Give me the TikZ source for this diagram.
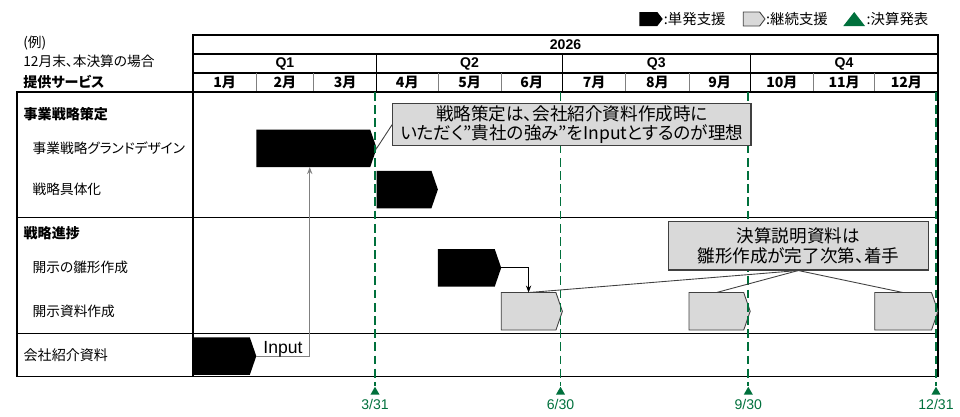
\documentclass[tikz,border=0pt]{standalone}
\usepackage{fontspec}
\setmainfont{Noto Sans CJK JP}[RawFeature=+palt]
\newfontfamily\latfont{Liberation Sans}
\usetikzlibrary{positioning}
\usetikzlibrary{shapes.symbols, shapes.geometric, arrows.meta}
\definecolor{kgreen}{RGB}{0,112,60}
\definecolor{kgray}{RGB}{217,217,217}
\definecolor{kline}{RGB}{64,64,64}

\begin{document}
\begin{tikzpicture}[x=0.02cm,y=-0.02cm,
  grid/.style={draw=black,line width=0.6pt},
  thingrid/.style={draw=gray,line width=0.4pt},
  hdr/.style={font=\fontsize{8}{9}\selectfont\bfseries,inner sep=0pt},
  sect/.style={font=\fontsize{8}{9}\selectfont\bfseries,anchor=west,inner sep=0pt},
  item/.style={font=\fontsize{7.8}{9}\selectfont,anchor=west,inner sep=0pt},
  legtext/.style={font=\fontsize{8.2}{9}\selectfont,inner sep=0.5pt},
  bar/.style={signal,signal to=east,signal pointer angle=142,inner sep=0pt,outer sep=0pt,minimum height=0.75cm,anchor=west},
  onebar/.style={bar,fill=black},
  contbar/.style={bar,fill=kgray,draw=kline,line width=0.5pt},
  callout/.style={fill=kgray,draw=kline,line width=0.6pt,align=center,font=\fontsize{10}{11.2}\selectfont,inner sep=0pt},
  pointer/.style={draw=kline,line width=0.5pt},
  deadline/.style={draw=kgreen,line width=1pt,dash pattern=on 5pt off 2.5pt},
  kessan/.style={regular polygon,regular polygon sides=3,fill=kgreen,inner sep=0pt,minimum size=0.21cm},
  datelbl/.style={font=\latfont\fontsize{8}{9}\selectfont,text=kgreen,inner sep=0pt},
]
\useasboundingbox (0,0) rectangle (960,416);

% legend
\node[onebar,minimum width=0.468cm,minimum height=0.28cm,signal pointer angle=105] (lgone) at (639.3,19) {};
\node[legtext,right=0pt of lgone] (lgonetxt) {:単発支援};
\node[contbar,minimum width=0.434cm,minimum height=0.28cm,signal pointer angle=105] (lgcont) at (743.3,19) {};
\node[legtext,right=0pt of lgcont] (lgconttxt) {:継続支援};
\fill[kgreen] (843.3,26) -- (854.2,12) -- (865,26) -- cycle;
\node[legtext,anchor=west] (lgkessan) at (865.5,19) {:決算発表};

% header
\node[item,font=\fontsize{7.8}{9}\selectfont] (rei) at (23,43) {(例)};
\node[item,font=\fontsize{7.8}{9}\selectfont] (jouken) at (23,61.5) {12月末、本決算の場合};
\node[sect] (service) at (23,82) {提供サービス};

\draw[grid] (193,35) rectangle (938,92);
\draw[grid] (193,54) -- (938,54);
\draw[grid] (193,73) -- (938,73);
\draw[grid] (376.7,54) -- (376.7,92);
\draw[grid] (562.4,54) -- (562.4,92);
\draw[grid] (750.2,54) -- (750.2,92);
\draw[thingrid] (256.3,73) -- (256.3,92);
\draw[thingrid] (313.4,73) -- (313.4,92);
\draw[thingrid] (437.9,73) -- (437.9,92);
\draw[thingrid] (501.2,73) -- (501.2,92);
\draw[thingrid] (625.7,73) -- (625.7,92);
\draw[thingrid] (689.0,73) -- (689.0,92);
\draw[thingrid] (813.5,73) -- (813.5,92);
\draw[thingrid] (874.7,73) -- (874.7,92);

\node[hdr] (year) at (565.5,44.5) {\latfont 2026};
\node[hdr] (qone) at (284.9,63.5) {\latfont Q1};
\node[hdr] (qtwo) at (469.6,63.5) {\latfont Q2};
\node[hdr] (qthree) at (656.3,63.5) {\latfont Q3};
\node[hdr] (qfour) at (844.1,63.5) {\latfont Q4};
\node[hdr] (jan) at (224.7,82.5) {1月};
\node[hdr] (feb) at (284.9,82.5) {2月};
\node[hdr] (mar) at (345.1,82.5) {3月};
\node[hdr] (apr) at (407.3,82.5) {4月};
\node[hdr] (may) at (469.6,82.5) {5月};
\node[hdr] (jun) at (531.8,82.5) {6月};
\node[hdr] (jul) at (594.1,82.5) {7月};
\node[hdr] (aug) at (657.4,82.5) {8月};
\node[hdr] (sep) at (719.6,82.5) {9月};
\node[hdr] (oct) at (781.9,82.5) {10月};
\node[hdr] (nov) at (844.1,82.5) {11月};
\node[hdr] (dec) at (906.4,82.5) {12月};

% body
\draw[grid] (17,92) rectangle (938,376.7);
\draw[grid] (193,92) -- (193,376.7);
\draw[grid] (17,217.7) -- (938,217.7);
\draw[grid] (17,333.3) -- (938,333.3);

\node[sect] (senryaku) at (23.3,114) {事業戦略策定};
\node[item] (grand) at (32.3,148.3) {事業戦略グランドデザイン};
\node[item] (gutai) at (32.3,189) {戦略具体化};
\node[sect] (shinchoku) at (23.3,233.3) {戦略進捗};
\node[item] (hinagata) at (32.3,267.7) {開示の雛形作成};
\node[item] (kaiji) at (32.3,311.7) {開示資料作成};
\node[item,font=\fontsize{8}{9}\selectfont] (shokai) at (23.3,355) {会社紹介資料};

% bars
\node[onebar,minimum width=2.408cm] (grandbar) at (256.3,148.3) {};
\node[onebar,minimum width=1.224cm] (gutaibar) at (376.7,189.5) {};
\node[onebar,minimum width=1.266cm] (hinabar) at (437.9,267.8) {};
\node[contbar,minimum width=1.224cm] (kaijia) at (501.2,311.3) {};
\node[contbar,minimum width=1.224cm] (kaijib) at (689.0,311.3) {};
\node[contbar,minimum width=1.266cm] (kaijic) at (874.7,311.3) {};
\node[onebar,minimum width=1.266cm] (shokaibar) at (193,356.1) {};

% 決算発表
\coordinate (mtop) at (375,92);
\coordinate (jtop) at (560.5,92);
\coordinate (stop) at (748.3,92);
\coordinate (dtop) at (936,92);
\node[kessan] (mtri) at (375,392) {};
\node[kessan] (jtri) at (560.5,392) {};
\node[kessan] (stri) at (748.3,392) {};
\node[kessan] (dtri) at (936,392) {};
\draw[deadline] (mtop) -- (mtri.north);
\draw[deadline] (jtop) -- (jtri.north);
\draw[deadline] (stop) -- (stri.north);
\draw[deadline] (dtop) -- (dtri.north);
\node[datelbl,below=2pt of mtri] (mdate) {3/31};
\node[datelbl,below=2pt of jtri] (jdate) {6/30};
\node[datelbl,below=2pt of stri] (sdate) {9/30};
\node[datelbl,below=2pt of dtri] (ddate) {12/31};

% callouts
\node[callout,minimum width=7.166cm,minimum height=0.848cm] (noteone) at (571.85,124.5)
  {戦略策定は、会社紹介資料作成時に\\いただく"貴社の強み"をInputとするのが理想};
\node[callout,minimum width=5.2cm,minimum height=0.966cm] (notetwo) at (798.3,245.85)
  {決算説明資料は\\雛形作成が完了次第、着手};

\draw[pointer] (grandbar.east) -- (noteone.west);
\draw[pointer] (notetwo.south) -- (kaijia.north);
\draw[pointer] (notetwo.south) -- (kaijib.north);
\draw[pointer] (notetwo.south) -- (kaijic.north);

\draw[line width=0.5pt,-{Stealth[length=4pt,width=3pt]}] (hinabar.east) -| (kaijia.north);
\draw[gray,line width=0.6pt,-{Stealth[length=4pt,width=3pt]}] (shokaibar.east) -| ([xshift=-2pt]grandbar.south)
  node[pos=0.25,anchor=base,yshift=1.5pt,text=black,font=\latfont\fontsize{10}{11}\selectfont,inner sep=0pt] (inputlbl) {Input};

\end{tikzpicture}
\end{document}
